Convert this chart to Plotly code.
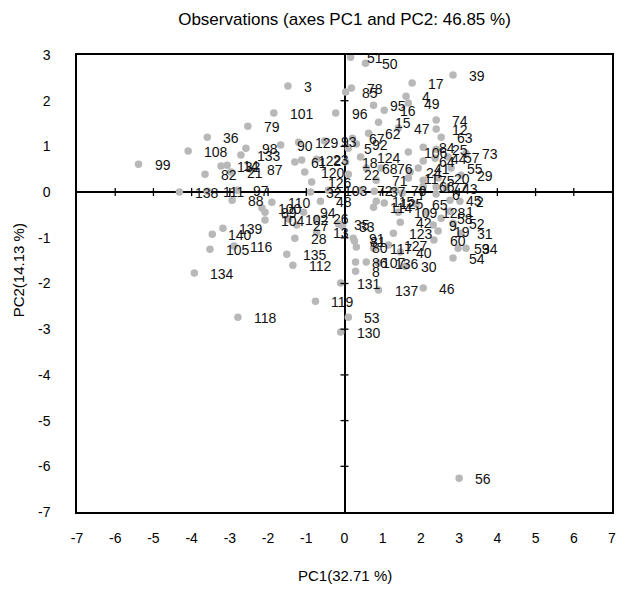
import plotly.graph_objects as go

labels = ["51","50","39","17","78","85","3","4","49","95","16","96","15","74","12","63","47","62","67","5",
          "92","101","79","36","108","99","98","133","132","14","82","21","87","90","129","93","61","122","120","23",
          "126","32","103","48","138","111","97","88","110","100","89","94","104","102","26","27","13","28","139","140",
          "105","116","134","135","112","118","119","53","130","131","137","46","30","40","8","86","107","136","91","81",
          "80","117","127","123","35","33","72","37","70","115","114","125","109","65","128","42","9","58","1","52",
          "19","31","60","59","34","54","45","2","6","106","84","25","64","44","57","55","29","73","41","24",
          "11","20","75","66","77","43","18","124","22","68","76","71","56","7"]

pc1 = [0.16,0.55,2.84,1.77,0.18,0.03,-1.48,1.61,1.67,0.76,1.04,-0.23,0.89,2.40,2.40,2.53,1.41,0.63,0.21,0.10,
       0.31,-1.85,-2.53,-3.59,-4.09,-5.39,-2.58,-2.71,-3.23,-3.07,-3.65,-2.97,-2.45,-1.67,-1.20,-0.52,-1.30,-1.12,-1.04,-0.73,
       -0.86,-0.89,-0.42,-0.63,-4.32,-3.59,-2.81,-2.94,-1.90,-2.16,-2.08,-1.07,-2.08,-1.46,-0.73,-1.25,-0.73,-1.30,-3.18,-3.46,
       -3.52,-2.89,-3.93,-1.51,-1.35,-2.79,-0.76,0.10,-0.10,-0.10,0.89,2.06,1.59,1.46,0.29,0.29,0.57,0.89,0.23,0.26,
       0.31,0.76,1.15,1.28,-0.16,-0.05,0.42,0.78,1.33,0.83,0.76,1.04,1.41,1.88,2.14,1.46,2.32,2.53,2.76,2.84,
       2.45,3.05,2.34,2.97,3.18,2.84,2.76,3.02,2.40,1.67,2.06,2.40,2.06,2.37,2.71,2.79,3.05,3.18,1.93,1.72,
       1.67,2.45,2.06,2.06,2.40,2.66,0.03,0.42,0.10,0.57,0.96,0.83,3.00,1.51]

pc2 = [2.95,2.82,2.56,2.39,2.28,2.19,2.32,2.10,1.95,1.90,1.79,1.73,1.53,1.58,1.38,1.20,1.40,1.29,1.18,0.96,
       1.05,1.73,1.44,1.20,0.90,0.61,0.96,0.81,0.57,0.59,0.39,0.44,0.50,1.03,1.09,1.12,0.66,0.70,0.44,0.72,
       0.22,0.00,0.04,-0.20,0.00,0.02,0.04,-0.18,-0.22,-0.35,-0.44,-0.44,-0.61,-0.59,-0.57,-0.72,-0.88,-1.01,-0.79,-0.92,
       -1.25,-1.18,-1.77,-1.36,-1.60,-2.74,-2.39,-2.74,-3.06,-1.99,-2.14,-2.10,-1.62,-1.31,-1.73,-1.53,-1.53,-1.55,-1.01,-1.07,
       -1.20,-1.23,-1.16,-0.90,-0.70,-0.74,0.04,0.02,0.04,-0.20,-0.33,-0.24,-0.44,-0.26,-0.44,-0.66,-0.72,-0.57,-0.42,-0.68,
       -0.85,-0.90,-1.05,-1.23,-1.23,-1.44,-0.18,-0.20,-0.04,0.88,0.98,0.94,0.68,0.74,0.77,0.53,0.37,0.85,0.53,0.44,
       0.31,0.31,0.26,0.13,0.11,0.09,0.66,0.77,0.39,0.53,0.53,0.26,-6.26,-0.02]

x_ticks = list(range(-7, 8))
y_ticks = list(range(-7, 4))

FONT = "Liberation Sans, Arial, sans-serif"

fig = go.Figure()
fig.add_trace(go.Scatter(
    x=pc1, y=pc2, mode="markers",
    marker=dict(size=7.5, color="#b8b8b8"),
    cliponaxis=False, hoverinfo="skip", showlegend=False))

# point labels, placed to the right of each observation
annotations = [
    dict(x=xv, y=yv, xref="x", yref="y", text=t, showarrow=False,
         xanchor="left", yanchor="middle", xshift=14, yshift=-1,
         font=dict(family=FONT, size=14, color="#111111"))
    for xv, yv, t in zip(pc1, pc2, labels)
]

shapes = []
for k in x_ticks:
    if k in (-7, 0, 7):
        continue
    shapes.append(dict(type="line", xref="x", yref="y", x0=k, x1=k,
                       ysizemode="pixel", yanchor=0, y0=-4, y1=4,
                       line=dict(color="black", width=1.3)))
for k in y_ticks:
    if k in (-7, 0, 3):
        continue
    shapes.append(dict(type="line", xref="x", yref="y", y0=k, y1=k,
                       xsizemode="pixel", xanchor=0, x0=-4, x1=4,
                       line=dict(color="black", width=1.3)))

annotations += [
    dict(text="PC1(32.71 %)", xref="paper", yref="paper", x=0.5,
         y=-(575 - 512) / 457, xanchor="center", yanchor="middle",
         showarrow=False, font=dict(family=FONT, size=15, color="black")),
    dict(text="PC2(14.13 %)", xref="paper", yref="paper",
         x=(18 - 77) / 538, y=(512 - 270) / 457, textangle=-90,
         xanchor="center", yanchor="middle",
         showarrow=False, font=dict(family=FONT, size=15, color="black")),
]

fig.update_layout(
    width=620, height=582,
    margin=dict(l=69, r=13, t=47, b=78),
    paper_bgcolor="white", plot_bgcolor="white",
    font=dict(family=FONT, color="black"),
    title=dict(text="Observations (axes PC1 and PC2: 46.85 %)",
               font=dict(family=FONT, size=17, color="black"),
               x=0.5, xref="paper", xanchor="center",
               y=1 - 11 / 582, yref="container", yanchor="middle"),
    shapes=shapes,
    annotations=annotations,
)
fig.update_xaxes(range=[-7, 7], tickvals=x_ticks, ticktext=[str(v) for v in x_ticks],
                 showgrid=False, zeroline=True, zerolinecolor="black", zerolinewidth=1.5,
                 showline=True, linecolor="black", linewidth=1.5, mirror=True,
                 ticks="", ticklabelstandoff=12, tickfont=dict(family=FONT, size=14, color="black"))
fig.update_yaxes(range=[-7, 3], tickvals=y_ticks, ticktext=[str(v) for v in y_ticks],
                 showgrid=False, zeroline=True, zerolinecolor="black", zerolinewidth=1.5,
                 showline=True, linecolor="black", linewidth=1.5, mirror=True,
                 ticks="", ticklabelstandoff=22, tickfont=dict(family=FONT, size=14, color="black"))

fig.write_html("out.html")
